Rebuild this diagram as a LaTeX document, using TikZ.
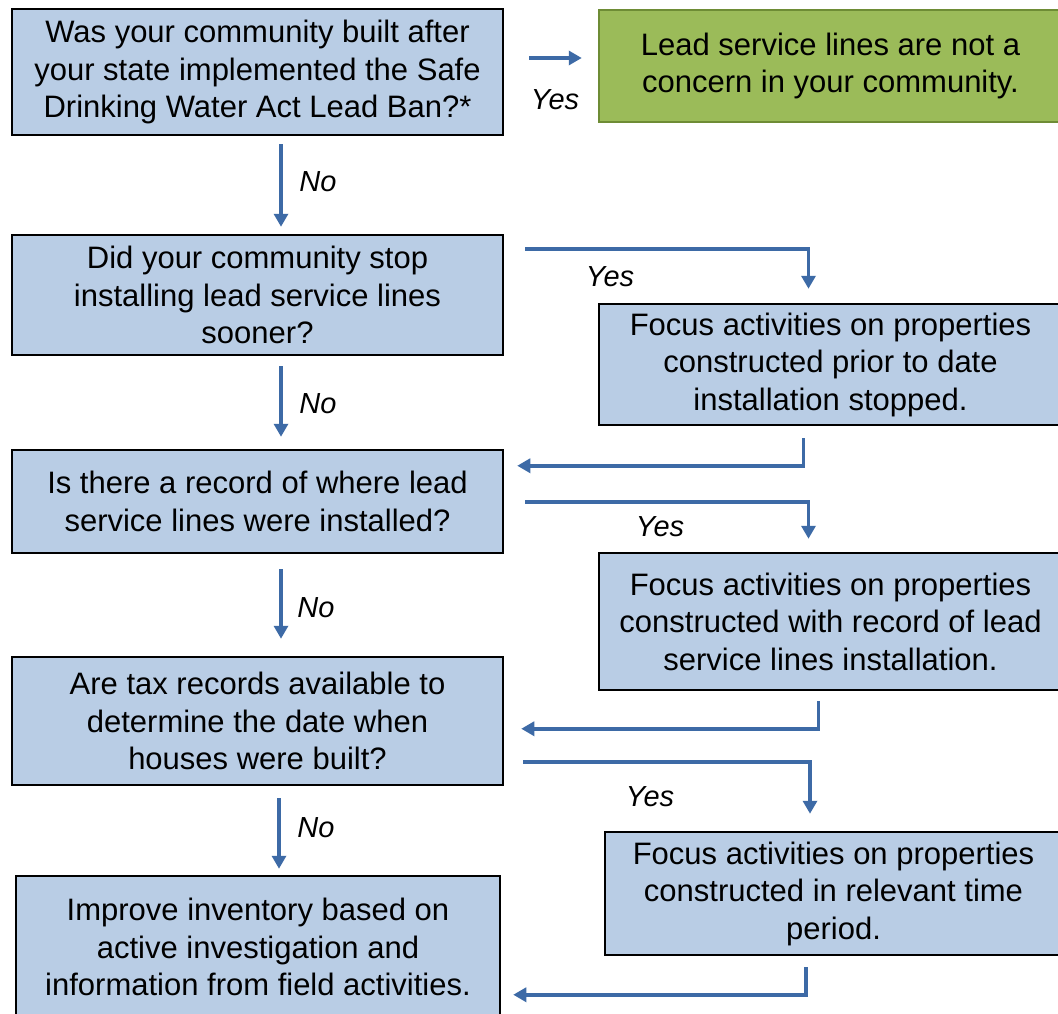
\documentclass[tikz,border=0pt]{standalone}
\usepackage{fontspec}
\setmainfont{Liberation Sans}
\usetikzlibrary{arrows.meta,calc}
\definecolor{boxblue}{HTML}{B9CDE5}
\definecolor{boxgreen}{HTML}{9BBB59}
\definecolor{greenedge}{HTML}{6E8C35}
\definecolor{flowblue}{HTML}{3D6AA6}
\tikzset{
  qbox/.style={draw=black, line width=2.5pt, fill=boxblue, inner sep=0pt,
    align=center, font=\fontsize{31}{37.5}\selectfont},
  gbox/.style={qbox, draw=greenedge, fill=boxgreen},
  arr/.style={draw=flowblue, line width=3.5pt,
    -{Triangle[length=13pt,width=14pt]}},
  lbl/.style={font=\fontsize{29}{34}\selectfont\itshape, inner sep=0pt}
}
\begin{document}
\begin{tikzpicture}[x=1pt,y=-1pt]
\useasboundingbox (0,0) rectangle (1058,1014);
\clip (0,0) rectangle (1058,1014);
\fill[white] (0,0) rectangle (1058,1014);

% question boxes (left column)
\node[qbox, minimum width=491pt, minimum height=126pt] (q1) at (257.5,72)
  {Was your community built after\\your state implemented the Safe\\Drinking Water Act Lead Ban?*};
\node[qbox, minimum width=491pt, minimum height=120pt] (q2) at (257.5,295)
  {Did your community stop\\installing lead service lines\\sooner?};
\node[qbox, minimum width=491pt, minimum height=103pt] (q3) at (257.5,501.5)
  {Is there a record of where lead\\service lines were installed?};
\node[qbox, minimum width=491pt, minimum height=128pt] (q4) at (257.5,721)
  {Are tax records available to\\determine the date when\\houses were built?};
\node[qbox, minimum width=484pt, minimum height=142pt] (fin) at (258,947)
  {Improve inventory based on\\active investigation and\\information from field activities.};

% outcome boxes (right column)
\node[gbox, minimum width=463pt, minimum height=112pt] (ok) at (830.5,66)
  {Lead service lines are not a\\concern in your community.};
\node[qbox, minimum width=463pt, minimum height=121pt] (a) at (830.5,364.5)
  {Focus activities on properties\\constructed prior to date\\installation stopped.};
\node[qbox, minimum width=463pt, minimum height=137pt] (b) at (830.5,621.5)
  {Focus activities on properties\\constructed with record of lead\\service lines installation.};
\node[qbox, minimum width=457pt, minimum height=123pt] (c) at (833.5,893.5)
  {Focus activities on properties\\constructed in relevant time\\period.};

% "No" branches
\draw[arr] ($(q1.south)+(23.5,8)$) -- ($(q2.north)+(23.5,-7)$);
\draw[arr] ($(q2.south)+(23.5,10)$) -- ($(q3.north)+(23.5,-12)$);
\draw[arr] ($(q3.south)+(23.5,15)$) -- ($(q4.north)+(23.5,-17)$);
\draw[arr] ($(q4.south)+(21.5,12)$) -- ($(fin.north)+(21,-6)$);
\node[lbl] (n1) at (318,182) {No};
\node[lbl] (n2) at (318,404) {No};
\node[lbl] (n3) at (316,608) {No};
\node[lbl] (n4) at (316,828) {No};

% "Yes" branches
\draw[arr] ($(q1.east)+(25,-14)$) -- ($(ok.west)+(-16,-8)$);
\draw[arr] ($(q2.north east)+(21,15)$) -| ($(a.north)+(-22,-14)$);
\draw[arr] ($(q3.east)+(21,0.5)$) -| ($(b.north)+(-22,-13)$);
\draw[arr] ($(q4.north east)+(19,106)$) -| ($(c.north)+(-23.5,-17)$);
\node[lbl] (y1) at (555,100) {Yes};
\node[lbl] (y2) at (610,277) {Yes};
\node[lbl] (y3) at (660,527) {Yes};
\node[lbl] (y4) at (650,797) {Yes};

% returns to the next question
\draw[arr] ($(a.south)+(-27,12)$) |- ($(q3.north east)+(13,17)$);
\draw[arr] ($(b.south)+(-12,10)$) |- ($(q4.north east)+(17,73)$);
\draw[arr] ($(c.south)+(-27.5,11)$) |- ($(fin.north east)+(12,120)$);
\end{tikzpicture}
\end{document}
